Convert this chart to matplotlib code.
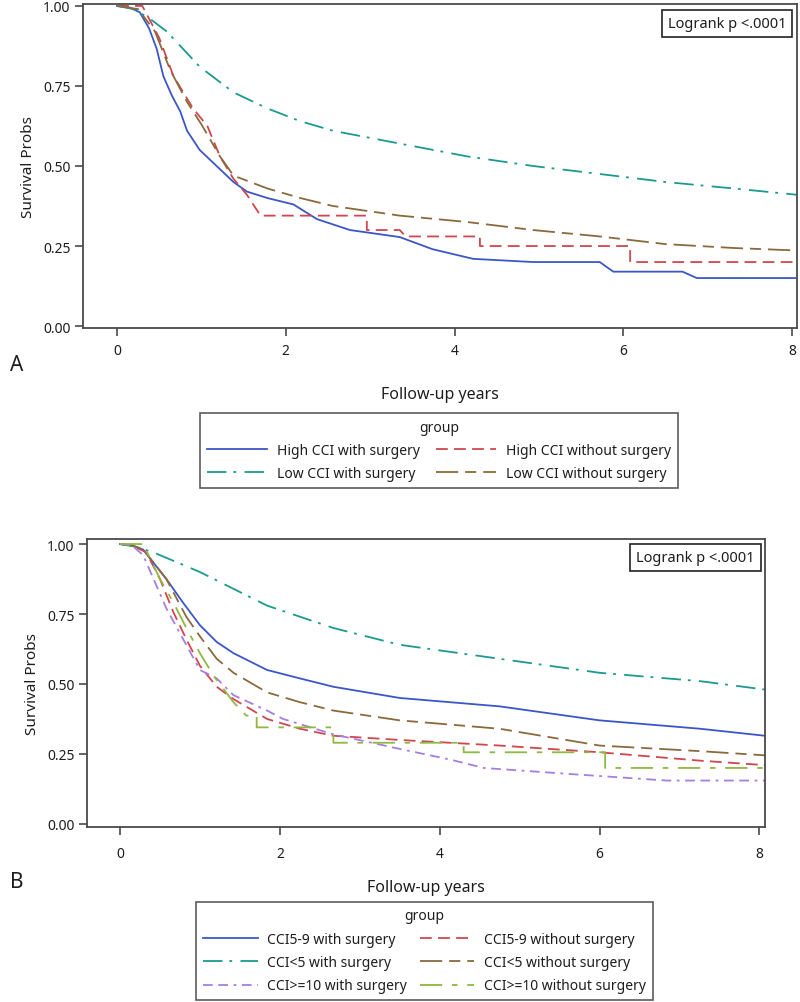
import matplotlib
matplotlib.use("Agg")
import matplotlib.pyplot as plt
from matplotlib.lines import Line2D

plt.rcParams["font.family"] = ["Noto Sans", "DejaVu Sans"]
plt.rcParams["lines.scale_dashes"] = False

# ---- panel A data (Kaplan-Meier) ----
a_labels = ["High CCI with surgery", "High CCI without surgery",
            "Low CCI with surgery", "Low CCI without surgery"]
a_high_surg_t = [0, 0.15, 0.27, 0.38, 0.47, 0.55, 0.65, 0.75, 0.83, 0.98, 1.18, 1.38, 1.54,
                 1.78, 2.09, 2.37, 2.76, 3.35, 3.74, 4.22, 4.93, 5.72, 5.88, 6.7, 6.87, 8.06]
a_high_surg_s = [1.0, 0.995, 0.98, 0.93, 0.866, 0.78, 0.72, 0.67, 0.61, 0.55, 0.50, 0.45, 0.42,
                 0.40, 0.38, 0.334, 0.30, 0.278, 0.24, 0.21, 0.20, 0.20, 0.17, 0.17, 0.15, 0.15]
a_high_nosurg_t = [0, 0.3, 0.5, 0.67, 0.9, 1.07, 1.22, 1.38, 1.54, 1.70, 2.96, 2.96,
                   3.35, 3.42, 4.3, 4.3, 6.08, 6.08, 8.06]
a_high_nosurg_s = [1.0, 1.0, 0.90, 0.78, 0.68, 0.625, 0.53, 0.46, 0.41, 0.345, 0.345, 0.30,
                   0.30, 0.28, 0.28, 0.25, 0.25, 0.20, 0.20]
a_low_surg_t = [0, 0.2, 0.39, 0.59, 0.98, 1.38, 1.78, 2.17, 2.56, 3.35, 4.15, 4.93,
                5.72, 6.5, 7.3, 8.06]
a_low_surg_s = [1.0, 0.99, 0.96, 0.92, 0.81, 0.73, 0.68, 0.64, 0.61, 0.57, 0.53, 0.50,
                0.475, 0.45, 0.43, 0.41]
a_low_nosurg_t = [0, 0.25, 0.45, 0.63, 0.83, 1.0, 1.22, 1.38, 1.78, 2.17, 2.56, 3.35,
                  4.15, 4.93, 5.72, 6.5, 7.3, 8.06]
a_low_nosurg_s = [1.0, 0.99, 0.92, 0.80, 0.70, 0.63, 0.53, 0.47, 0.43, 0.40, 0.375, 0.345,
                  0.325, 0.30, 0.28, 0.256, 0.244, 0.236]

# ---- panel B data ----
b_labels = ["CCI5-9 with surgery", "CCI5-9 without surgery",
            "CCI<5 with surgery", "CCI<5 without surgery",
            "CCI>=10 with surgery", "CCI>=10 without surgery"]
b_mid_surg_t = [0, 0.15, 0.29, 0.58, 0.79, 1.0, 1.21, 1.42, 1.84, 2.25, 2.67, 3.5,
                4.75, 6.0, 7.26, 8.07]
b_mid_surg_s = [1, 0.995, 0.98, 0.875, 0.79, 0.71, 0.65, 0.61, 0.55, 0.52, 0.49, 0.45,
                0.42, 0.37, 0.34, 0.315]
b_mid_nosurg_t = [0, 0.15, 0.33, 0.5, 0.67, 0.83, 1.0, 1.21, 1.42, 1.84, 2.25, 2.67,
                  3.5, 4.75, 6.0, 7.26, 8.07]
b_mid_nosurg_s = [1, 0.995, 0.97, 0.875, 0.755, 0.66, 0.565, 0.49, 0.446, 0.375, 0.34,
                  0.315, 0.30, 0.28, 0.256, 0.226, 0.21]
b_low_surg_t = [0, 0.2, 0.42, 1.0, 1.42, 1.84, 2.67, 3.5, 4.75, 6.0, 7.26, 8.07]
b_low_surg_s = [1, 0.99, 0.97, 0.90, 0.84, 0.78, 0.70, 0.64, 0.59, 0.54, 0.51, 0.48]
b_low_nosurg_t = [0, 0.15, 0.29, 0.58, 0.83, 1.0, 1.21, 1.42, 1.84, 2.25, 2.67, 3.5,
                  4.75, 6.0, 7.26, 8.07]
b_low_nosurg_s = [1, 0.995, 0.98, 0.875, 0.74, 0.67, 0.59, 0.54, 0.47, 0.435, 0.405, 0.37,
                  0.34, 0.28, 0.26, 0.245]
b_high_surg_t = [0, 0.15, 0.29, 0.42, 0.58, 0.79, 1.0, 1.21, 1.42, 1.84, 2.04, 2.67,
                 3.5, 4.13, 4.55, 5.8, 6.84, 8.07]
b_high_surg_s = [1, 0.995, 0.96, 0.875, 0.77, 0.66, 0.55, 0.52, 0.46, 0.405, 0.375, 0.32,
                 0.268, 0.23, 0.20, 0.175, 0.155, 0.155]
b_high_nosurg_t = [0, 0.29, 0.5, 0.67, 0.83, 1.0, 1.17, 1.42, 1.58, 1.71, 1.71, 2.67,
                   2.67, 4.3, 4.3, 6.07, 6.07, 8.07]
b_high_nosurg_s = [1, 1, 0.875, 0.79, 0.70, 0.61, 0.53, 0.435, 0.387, 0.387, 0.345, 0.345,
                   0.29, 0.29, 0.256, 0.256, 0.20, 0.20]

xticks = [0, 2, 4, 6, 8]
yticks = [0.0, 0.25, 0.5, 0.75, 1.0]

blue, red, teal, brown, purple, green = "#3b56c9", "#d0464f", "#1a9a90", "#8a6a3c", "#a77de0", "#8fb83e"
st_solid = "-"
st_red = (0, (8.5, 4.5))
st_teal = (0, (14, 5, 2, 6))
st_brown = (0, (16, 5, 8, 5))
st_purple = (0, (7, 4, 7, 4, 2, 4))
st_green = (0, (16, 7, 4, 7))
frame = "#4a4a4a"
txt = "#1e1e1e"

W, H = 800, 1003
fig = plt.figure(figsize=(8, 10.03), dpi=100)


def make_ax(l, r, t, b, xlim, ylim, xpad, lpad):
    ax = fig.add_axes([l / W, 1 - b / H, (r - l) / W, (b - t) / H])
    ax.set_xlim(*xlim)
    ax.set_ylim(*ylim)
    ax.set_xticks(xticks)
    ax.set_yticks(yticks)
    ax.set_yticklabels(["0.00", "0.25", "0.50", "0.75", "1.00"])
    for s in ax.spines.values():
        s.set_color(frame)
        s.set_linewidth(1.3)
    ax.tick_params(direction="out", length=6, width=1.2, color=frame,
                   labelsize=10, labelcolor=txt, pad=3)
    ax.tick_params(axis="x", pad=xpad)
    ax.set_ylabel("Survival Probs", fontsize=11, color=txt, labelpad=5)
    ax.set_xlabel("Follow-up years", fontsize=11.5, color=txt, labelpad=lpad)
    ax.text(0.985, 0.962, "Logrank p <.0001", transform=ax.transAxes, ha="right", va="top",
            fontsize=10.5, color=txt,
            bbox=dict(boxstyle="square,pad=0.4", fc="white", ec="#222222", lw=1.2))
    return ax


def add_legend(handles, labels, cx, cy, hl, cs):
    leg = fig.legend(handles, labels, ncol=2, title="group", loc="center",
                     bbox_to_anchor=(cx / W, 1 - cy / H), fontsize=10, title_fontsize=10,
                     frameon=True, fancybox=False, edgecolor="#333333", handlelength=hl,
                     columnspacing=cs, handletextpad=0.7, labelspacing=0.6, borderpad=0.5)
    leg.get_frame().set_linewidth(1.2)
    for t in leg.get_texts():
        t.set_color(txt)
    leg.get_title().set_color(txt)
    return leg


lw = 1.3

# panel A
axA = make_ax(83, 797, 5, 329, (-0.403, 8.057), (-0.006, 1.006), 5, 20)
axA.plot(a_high_surg_t, a_high_surg_s, color=blue, ls=st_solid, lw=lw)
axA.plot(a_high_nosurg_t, a_high_nosurg_s, color=red, ls=st_red, lw=lw)
axA.plot(a_low_surg_t, a_low_surg_s, color=teal, ls=st_teal, lw=lw)
axA.plot(a_low_nosurg_t, a_low_nosurg_s, color=brown, ls=st_brown, lw=lw)
fig.text(10 / W, 1 - 366 / H, "A", fontsize=15, ha="left", va="center", color=txt)

handlesA = [Line2D([], [], color=c, ls=s, lw=lw) for c, s in
            [(blue, st_solid), (red, st_red), (teal, st_teal), (brown, st_brown)]]
orderA = [0, 2, 1, 3]  # ncol=2 fills columns first
add_legend([handlesA[i] for i in orderA], [a_labels[i] for i in orderA], 439, 451.5, 4.3, 1.2)

# panel B
axB = make_ax(87, 765, 540, 828, (-0.413, 8.07), (-0.011, 1.018), 8, 13)
axB.plot(b_mid_surg_t, b_mid_surg_s, color=blue, ls=st_solid, lw=lw)
axB.plot(b_mid_nosurg_t, b_mid_nosurg_s, color=red, ls=st_red, lw=lw)
axB.plot(b_low_surg_t, b_low_surg_s, color=teal, ls=st_teal, lw=lw)
axB.plot(b_low_nosurg_t, b_low_nosurg_s, color=brown, ls=st_brown, lw=lw)
axB.plot(b_high_surg_t, b_high_surg_s, color=purple, ls=st_purple, lw=lw)
axB.plot(b_high_nosurg_t, b_high_nosurg_s, color=green, ls=st_green, lw=lw)
fig.text(10 / W, 1 - 883 / H, "B", fontsize=15, ha="left", va="center", color=txt)

handlesB = [Line2D([], [], color=c, ls=s, lw=lw) for c, s in
            [(blue, st_solid), (red, st_red), (teal, st_teal), (brown, st_brown),
             (purple, st_purple), (green, st_green)]]
orderB = [0, 2, 4, 1, 3, 5]
add_legend([handlesB[i] for i in orderB], [b_labels[i] for i in orderB], 424.5, 952, 3.9, 0.9)

fig.savefig("out.png", dpi=100)
